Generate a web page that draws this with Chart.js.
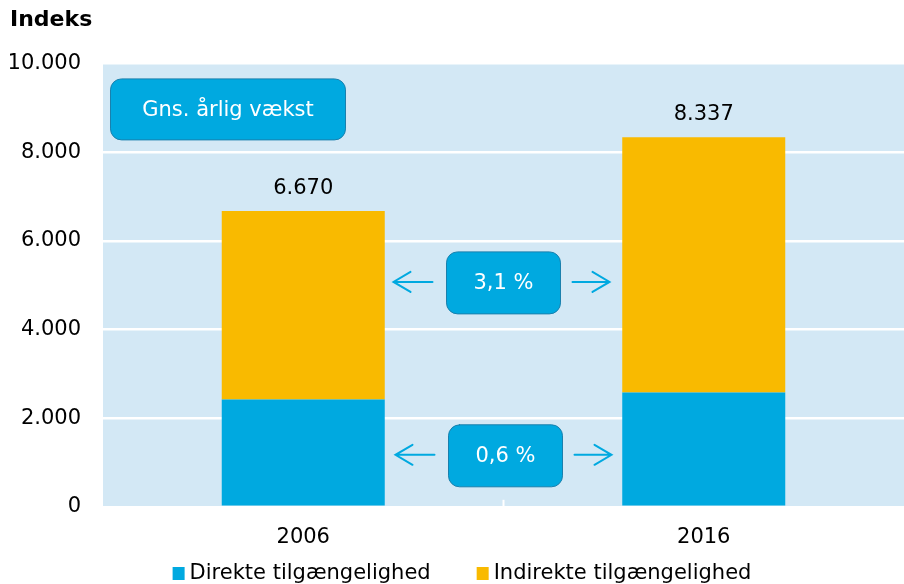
<!DOCTYPE html>
<html>
<head>
<meta charset="utf-8">
<script src="https://cdn.jsdelivr.net/npm/chart.js@4"></script>
<style>
  html, body { margin: 0; padding: 0; background: #fff; }
  #wrap { width: 904px; height: 584px; }
</style>
</head>
<body>
<div id="wrap"><canvas id="c" width="904" height="584"></canvas></div>
<script>
// Values
const years = ["2006", "2016"];
const direkte = [2420, 2580];
const indirekte = [4250, 5757];   // total 6670 / 8337
const totals = [6670, 8337];
const yTicks = [0, 2000, 4000, 6000, 8000, 10000];
const growthLabels = ["3,1 %", "0,6 %"];
const growthAt = [5050, 1150];   // y-value where each growth badge sits

const BLUE = "#00a9e0";
const YELLOW = "#f9ba00";
const PANEL = "#d3e8f5";
const FONT = "'DejaVu Sans', Verdana, sans-serif";
const FS = 21;

// Danish thousands separator
const fmt = (v) => String(v).replace(/\B(?=(\d{3})+(?!\d))/g, ".");

function roundRect(ctx, x, y, w, h, r) {
  ctx.beginPath();
  ctx.moveTo(x + r, y);
  ctx.arcTo(x + w, y, x + w, y + h, r);
  ctx.arcTo(x + w, y + h, x, y + h, r);
  ctx.arcTo(x, y + h, x, y, r);
  ctx.arcTo(x, y, x + w, y, r);
  ctx.closePath();
}

function badge(ctx, cx, cy, w, h, text) {
  roundRect(ctx, cx - w / 2, cy - h / 2, w, h, 11);
  ctx.fillStyle = BLUE;
  ctx.fill();
  ctx.strokeStyle = "#1a80ad";
  ctx.lineWidth = 1;
  ctx.stroke();
  ctx.fillStyle = "#fff";
  ctx.font = `${FS}px ${FONT}`;
  ctx.textAlign = "center";
  ctx.textBaseline = "middle";
  ctx.fillText(text, cx, cy + 1);
}

function arrow(ctx, x0, x1, y) {
  // line from x0 to x1, head at x1
  const dir = Math.sign(x1 - x0);
  ctx.strokeStyle = BLUE;
  ctx.lineWidth = 2;
  ctx.lineCap = "round";
  ctx.beginPath();
  ctx.moveTo(x0, y);
  ctx.lineTo(x1, y);
  ctx.moveTo(x1 - dir * 17, y - 10);
  ctx.lineTo(x1, y);
  ctx.lineTo(x1 - dir * 17, y + 10);
  ctx.stroke();
}

const panelBg = {
  id: "panelBg",
  beforeDraw(chart) {
    const { ctx, chartArea: a } = chart;
    ctx.save();
    ctx.fillStyle = PANEL;
    ctx.fillRect(a.left, a.top, a.right - a.left, a.bottom - a.top);
    ctx.restore();
  },
};

const overlays = {
  id: "overlays",
  afterDatasetsDraw(chart) {
    const { ctx, chartArea: a, scales: { x, y } } = chart;
    ctx.save();
    // totals above bars
    ctx.fillStyle = "#000";
    ctx.font = `${FS}px ${FONT}`;
    ctx.textAlign = "center";
    ctx.textBaseline = "middle";
    totals.forEach((t, i) => {
      ctx.fillText(fmt(t), x.getPixelForValue(i), y.getPixelForValue(t) - 23);
    });
    // small tick between categories
    const mid = (x.getPixelForValue(0) + x.getPixelForValue(1)) / 2;
    ctx.strokeStyle = "#fff";
    ctx.lineWidth = 2;
    ctx.beginPath();
    ctx.moveTo(mid, a.bottom - 7);
    ctx.lineTo(mid, a.bottom);
    ctx.stroke();
    // heading badge
    badge(ctx, a.left + 8 + 117, a.top + 16 + 30, 235, 61, "Gns. årlig vækst");
    // growth badges with arrows
    growthLabels.forEach((lab, i) => {
      const cy = y.getPixelForValue(growthAt[i]);
      const dx = i === 0 ? 0 : 2;
      badge(ctx, mid + dx, cy, 114, 62, lab);
      arrow(ctx, mid + dx - 71, mid + dx - 110, cy - 1);
      arrow(ctx, mid + dx + 69, mid + dx + 106, cy - 1);
    });
    ctx.restore();
  },
};

// Legend drawn by hand so the item spacing can match the original
const bottomLegend = {
  id: "bottomLegend",
  afterDraw(chart) {
    const { ctx, width } = chart;
    const items = chart.data.datasets.map(d => ({ text: d.label, color: d.backgroundColor }));
    ctx.save();
    ctx.font = `${FS}px ${FONT}`;
    ctx.textBaseline = "middle";
    ctx.textAlign = "left";
    const box = 12, gap = 5, between = 46;
    const widths = items.map(it => box + gap + ctx.measureText(it.text).width);
    const total = widths.reduce((s, w) => s + w, 0) + between * (items.length - 1);
    let xPos = width / 2 + 10 - total / 2;
    const yMid = 573;
    items.forEach((it, i) => {
      ctx.fillStyle = it.color;
      ctx.fillRect(xPos, yMid - 6, box, 13);
      ctx.fillStyle = "#000";
      ctx.fillText(it.text, xPos + box + gap, yMid + 1);
      xPos += widths[i] + between;
    });
    ctx.restore();
  },
};

new Chart(document.getElementById("c"), {
  type: "bar",
  data: {
    labels: years,
    datasets: [
      { label: "Direkte tilgængelighed", data: direkte, backgroundColor: BLUE },
      { label: "Indirekte tilgængelighed", data: indirekte, backgroundColor: YELLOW },
    ],
  },
  options: {
    responsive: false,
    animation: false,
    layout: { padding: { left: 10, right: 0, top: 0, bottom: 16 } },
    datasets: { bar: { barPercentage: 0.407, categoryPercentage: 1 } },
    scales: {
      x: {
        stacked: true,
        grid: { display: false, drawTicks: false },
        border: { display: false },
        ticks: { color: "#000", font: { family: FONT, size: FS }, padding: 18 },
      },
      y: {
        stacked: true,
        min: 0,
        max: 10000,
        afterBuildTicks: (s) => { s.ticks = yTicks.map(v => ({ value: v })); },
        afterFit: (s) => { s.width = 93; },
        grid: { color: "#fff", lineWidth: 2.5, drawTicks: false },
        border: { display: false },
        ticks: {
          color: "#000",
          font: { family: FONT, size: FS },
          padding: 22,
          callback: (v) => fmt(v),
        },
      },
    },
    plugins: {
      title: {
        display: true,
        text: "Indeks",
        align: "start",
        color: "#000",
        font: { family: FONT, size: 22, weight: "bold" },
        padding: { top: 7, bottom: 30 },
      },
      legend: { display: false },
      tooltip: { enabled: false },
    },
  },
  plugins: [panelBg, overlays, bottomLegend],
});
</script>
</body>
</html>
